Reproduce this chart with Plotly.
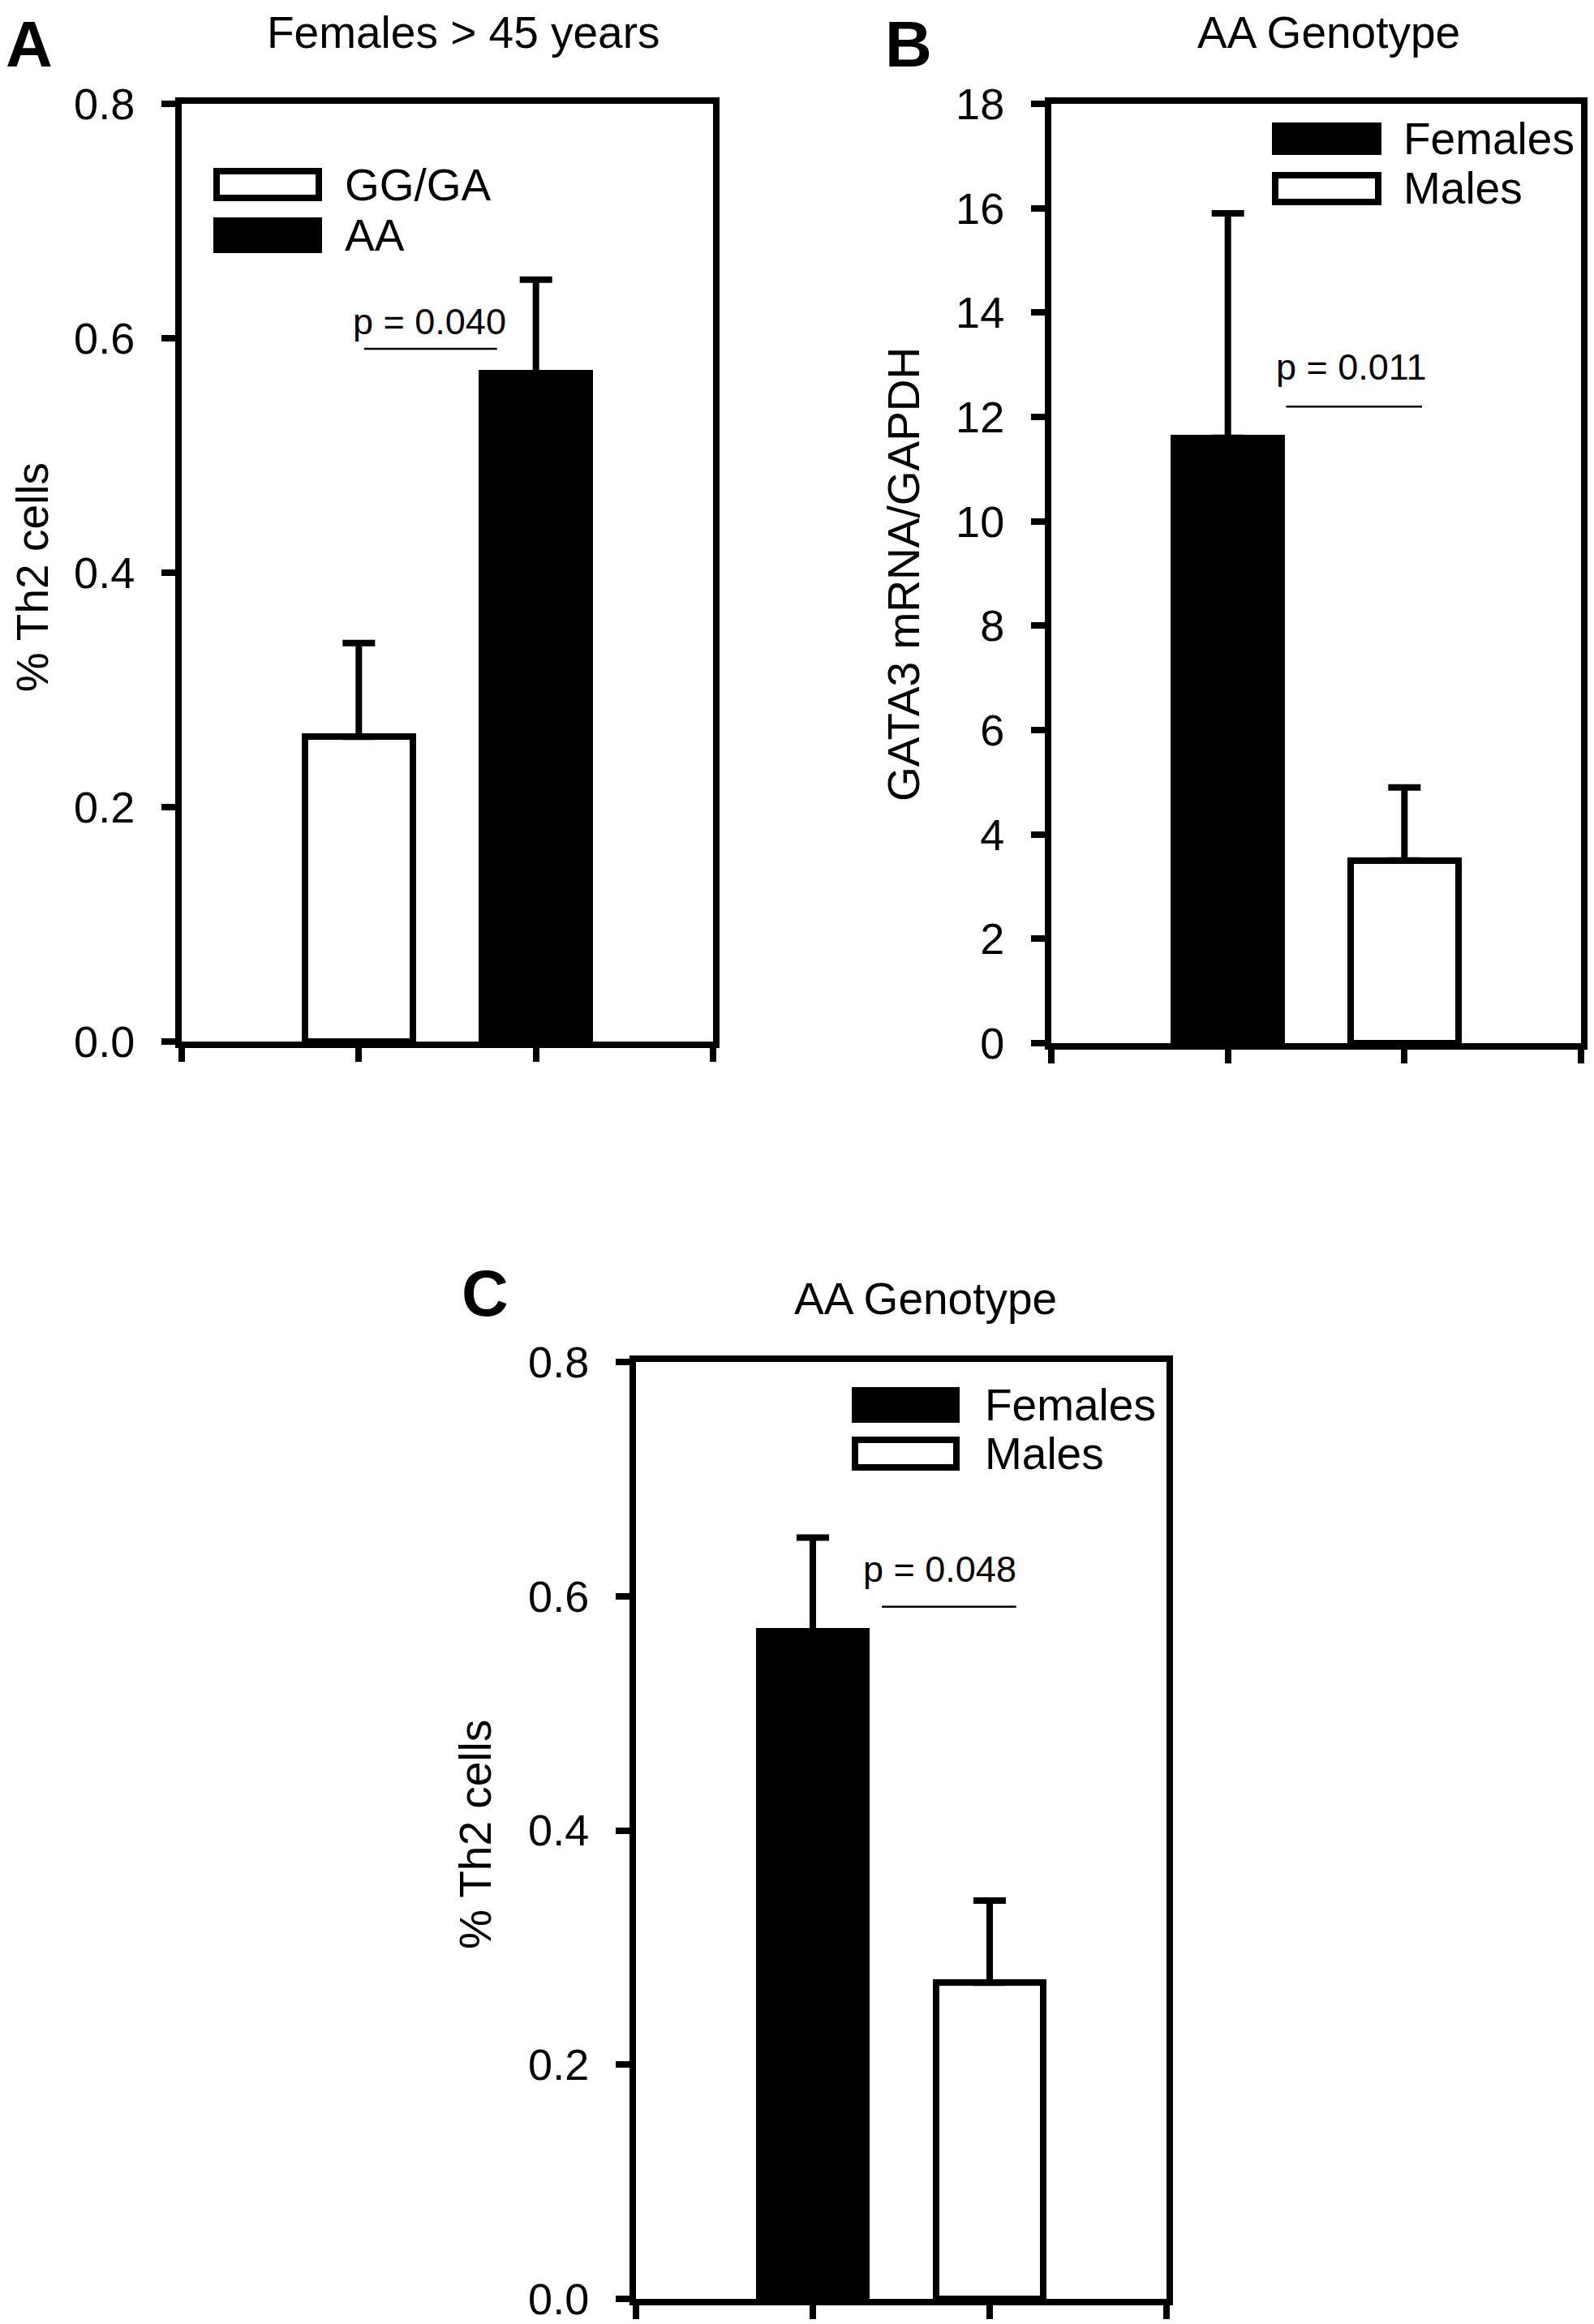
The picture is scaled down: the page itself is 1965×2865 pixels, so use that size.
import plotly.graph_objects as go

W, H = 1965, 2865
OFF = 8  # default page margin of the html body
FONT = "Liberation Sans, Arial, sans-serif"

# ---------------- data ----------------
positions = [0, 1]

a_groups = ["GG/GA", "AA"]
a_means = [0.26, 0.57]
a_sem = [0.08, 0.08]
a_title = "Females > 45 years"
a_ylabel = "% Th2 cells"
a_p = "p = 0.040"
a_yticks = [0.0, 0.2, 0.4, 0.6, 0.8]

b_groups = ["Females", "Males"]
b_means = [11.6, 3.5]
b_sem = [4.3, 1.4]
b_title = "AA Genotype"
b_ylabel = "GATA3 mRNA/GAPDH"
b_p = "p = 0.011"
b_yticks = [0, 2, 4, 6, 8, 10, 12, 14, 16, 18]

c_groups = ["Females", "Males"]
c_means = [0.57, 0.27]
c_sem = [0.08, 0.07]
c_title = "AA Genotype"
c_ylabel = "% Th2 cells"
c_p = "p = 0.048"
c_yticks = [0.0, 0.2, 0.4, 0.6, 0.8]

# ---------------- helpers ----------------
def px(x):
    return (x - OFF) / W

def py(y):
    return 1 - (y - OFF) / H

def inside(v, size):
    # keep a text box of the given font size fully inside the page
    return max(v, OFF + 0.57 * size + 1)

LW = 8
TITLE_SIZE = 55
LETTER_SIZE = 80
YLAB_SIZE = 55

panels = [
    dict(key="", letter="A", groups=a_groups, means=a_means, sem=a_sem, title=a_title,
         ylabel=a_ylabel, p=a_p, yticks=a_yticks, yrange=[0, 0.8], fmt=".1f",
         colors=["white", "black"],
         box=(220, 883, 124, 1288), letter_xy=(36, 44), title_xy=(571, 30),
         ylabel_xy=(30, 712),
         pline=(0.03, 0.78, 0.591), ptext=(0.40, 0.614),
         legend_x=(267, 393), legend_y=[(211, 244), (272, 308)], legend_tx=423,
         legend_ty=[228, 290]),
    dict(key="2", letter="B", groups=b_groups, means=b_means, sem=b_sem, title=b_title,
         ylabel=b_ylabel, p=b_p, yticks=b_yticks, yrange=[0, 18], fmt="d",
         colors=["black", "white"],
         box=(1292, 1953, 124, 1290), letter_xy=(1120, 45), title_xy=(1638, 30),
         ylabel_xy=(1114, 708),
         pline=(0.33, 1.10, 12.2), ptext=(0.70, 12.95),
         legend_x=(1572, 1699), legend_y=[(155, 187), (216, 249)], legend_tx=1728,
         legend_ty=[171, 232]),
    dict(key="3", letter="C", groups=c_groups, means=c_means, sem=c_sem, title=c_title,
         ylabel=c_ylabel, p=c_p, yticks=c_yticks, yrange=[0, 0.8], fmt=".1f",
         colors=["black", "white"],
         box=(780, 1442, 1675, 2838), letter_xy=(598, 1594), title_xy=(1141, 1601),
         ylabel_xy=(586, 2262),
         pline=(0.39, 1.15, 0.591), ptext=(0.72, 0.623),
         legend_x=(1054, 1179), legend_y=[(1714, 1750), (1775, 1809)], legend_tx=1212,
         legend_ty=[1732, 1792]),
]

fig = go.Figure()
shapes = []
annotations = []
layout = {}

for pn in panels:
    k = pn["key"]
    xa = "x" + k
    ya = "y" + k
    for i in range(len(pn["groups"])):
        fig.add_trace(go.Bar(
            x=[positions[i]], y=[pn["means"][i]], name=pn["groups"][i],
            width=0.61, xaxis=xa, yaxis=ya,
            marker=dict(color=pn["colors"][i], line=dict(color="black", width=LW)),
            error_y=dict(type="data", symmetric=False, array=[pn["sem"][i]],
                         arrayminus=[0], color="black", thickness=8, width=20),
            showlegend=False, hoverinfo="skip",
        ))
    x0, x1, y0, y1 = pn["box"]
    h = LW / 2
    axis_common = dict(showline=True, linecolor="black", linewidth=LW, mirror=True,
                       ticks="outside", ticklen=17, tickwidth=8, tickcolor="black",
                       showgrid=False, zeroline=False, automargin=False)
    layout["xaxis" + k] = dict(domain=[px(x0 + h), px(x1 - h)], range=[-1, 2],
                               tickvals=[-1, 0, 1, 2], showticklabels=False,
                               anchor=ya, fixedrange=True, **axis_common)
    layout["yaxis" + k] = dict(domain=[py(y1 - h), py(y0 + h)], range=pn["yrange"],
                               tickvals=pn["yticks"], tickformat=pn["fmt"],
                               ticklabelstandoff=22,
                               tickfont=dict(family=FONT, size=54, color="black"),
                               anchor=xa, fixedrange=True, **axis_common)
    # p-value bracket
    lx0, lx1, ly = pn["pline"]
    shapes.append(dict(type="line", xref=xa, yref=ya, x0=lx0, x1=lx1, y0=ly, y1=ly,
                       line=dict(color="black", width=2.5)))
    tx, ty = pn["ptext"]
    annotations.append(dict(xref=xa, yref=ya, x=tx, y=ty, text=pn["p"], showarrow=False,
                            xanchor="center", yanchor="middle",
                            font=dict(family=FONT, size=45, color="black")))
    # legend
    lgx0, lgx1 = pn["legend_x"]
    for i, (ly0, ly1) in enumerate(pn["legend_y"]):
        shapes.append(dict(type="rect", xref="paper", yref="paper",
                           x0=px(lgx0), x1=px(lgx1), y0=py(ly1), y1=py(ly0),
                           fillcolor=pn["colors"][i],
                           line=dict(color="black", width=LW)))
        annotations.append(dict(xref="paper", yref="paper", x=px(pn["legend_tx"]),
                                y=py(pn["legend_ty"][i]), text=pn["groups"][i],
                                showarrow=False, xanchor="left", yanchor="middle",
                                font=dict(family=FONT, size=55, color="black")))
    # title
    annotations.append(dict(xref="paper", yref="paper", x=px(pn["title_xy"][0]),
                            y=py(inside(pn["title_xy"][1], TITLE_SIZE)),
                            text=pn["title"], showarrow=False,
                            xanchor="center", yanchor="middle",
                            font=dict(family=FONT, size=TITLE_SIZE, color="black")))
    # panel letter
    annotations.append(dict(xref="paper", yref="paper", x=px(pn["letter_xy"][0]),
                            y=py(inside(pn["letter_xy"][1], LETTER_SIZE)),
                            text="<b>" + pn["letter"] + "</b>",
                            showarrow=False, xanchor="center", yanchor="middle",
                            font=dict(family=FONT, size=LETTER_SIZE, color="black")))
    # y-axis title
    annotations.append(dict(xref="paper", yref="paper",
                            x=px(inside(pn["ylabel_xy"][0], YLAB_SIZE)),
                            y=py(pn["ylabel_xy"][1]), text=pn["ylabel"], showarrow=False,
                            textangle=-90, xanchor="center", yanchor="middle",
                            font=dict(family=FONT, size=YLAB_SIZE, color="black")))

fig.update_layout(
    template="none",
    width=W, height=H,
    margin=dict(l=0, r=0, t=0, b=0, autoexpand=False),
    paper_bgcolor="white", plot_bgcolor="white",
    shapes=shapes, annotations=annotations,
    bargap=0, showlegend=False,
    font=dict(family=FONT, color="black"),
    **layout,
)

fig.write_html("out.html")
